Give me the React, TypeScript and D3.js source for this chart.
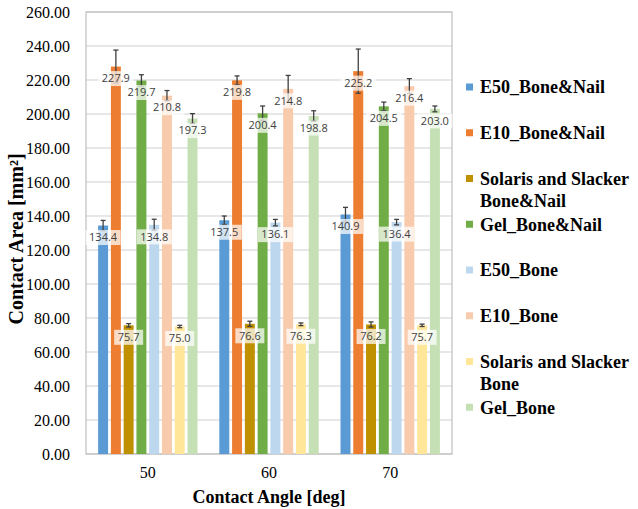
import React from "react";
import * as d3 from "d3";

const categories = ["50", "60", "70"];
const seriesNames = [
  "E50_Bone&Nail",
  "E10_Bone&Nail",
  "Solaris and Slacker Bone&Nail",
  "Gel_Bone&Nail",
  "E50_Bone",
  "E10_Bone",
  "Solaris and Slacker Bone",
  "Gel_Bone",
];
const legendLines = [
  ["E50_Bone&Nail"],
  ["E10_Bone&Nail"],
  ["Solaris and Slacker", "Bone&Nail"],
  ["Gel_Bone&Nail"],
  ["E50_Bone"],
  ["E10_Bone"],
  ["Solaris and Slacker", "Bone"],
  ["Gel_Bone"],
];
const colors = ["#5b9bd5", "#ed7d31", "#bf9000", "#70ad47", "#bdd7ee", "#f8cbad", "#ffe699", "#c5e0b4"];

// values per series, one per category (50, 60, 70)
const e50BoneNail = [134.4, 137.5, 140.9];
const e10BoneNail = [227.9, 219.8, 225.2];
const solarisBoneNail = [75.7, 76.6, 76.2];
const gelBoneNail = [219.7, 200.4, 204.5];
const e50Bone = [134.8, 136.1, 136.4];
const e10Bone = [210.8, 214.8, 216.4];
const solarisBone = [75.0, 76.3, 75.7];
const gelBone = [197.3, 198.8, 203.0];

// error (± standard deviation) per series
const e50BoneNailErr = [3.0, 2.5, 4.2];
const e10BoneNailErr = [9.7, 2.6, 13.0];
const solarisBoneNailErr = [1.0, 1.5, 1.5];
const gelBoneNailErr = [3.4, 4.3, 2.5];
const e50BoneErr = [3.3, 1.9, 1.6];
const e10BoneErr = [3.0, 7.9, 4.4];
const solarisBoneErr = [0.7, 0.8, 0.7];
const gelBoneErr = [2.9, 3.1, 1.7];

const yTicks = d3.range(0, 261, 20);

const seriesValues = [e50BoneNail, e10BoneNail, solarisBoneNail, gelBoneNail, e50Bone, e10Bone, solarisBone, gelBone];
const seriesErrors = [e50BoneNailErr, e10BoneNailErr, solarisBoneNailErr, gelBoneNailErr, e50BoneErr, e10BoneErr, solarisBoneErr, gelBoneErr];

const SERIF = "Liberation Serif, Times New Roman, Times, DejaVu Serif, serif";
const SANS = "Open Sans, Liberation Sans, sans-serif";

export default function App() {
  const W = 638, H = 509;
  const left = 86, right = 452, top = 12, bottom = 454;
  const x0 = d3.scaleBand<string>().domain(categories).range([left, right]).paddingInner(0.18).paddingOuter(0.1);
  const x1 = d3.scaleBand<number>().domain(d3.range(seriesNames.length)).range([0, x0.bandwidth()]).paddingInner(0.22).paddingOuter(0);
  const y = d3.scaleLinear().domain([0, 260]).range([bottom, top]);
  const serifStyle = { fontFamily: SERIF };
  const sansStyle = { fontFamily: SANS };

  const marks = [];
  seriesNames.forEach((s, si) => {
    categories.forEach((c, ci) => {
      marks.push({ si, ci, c, v: seriesValues[si][ci], e: seriesErrors[si][ci] });
    });
  });

  return (
    <svg width={W} height={H} style={{ position: "absolute", left: 0, top: 0, background: "#fff" }}>
      <rect x={0} y={0} width={W} height={H} fill="#fff" />
      {yTicks.map((t) => (
        <g key={t}>
          <line x1={left} x2={right} y1={y(t)} y2={y(t)} stroke="#d0d0d0" strokeWidth={1.2} />
          <text x={70} y={y(t)} dy="0.35em" textAnchor="end" style={serifStyle} fontSize={16} fill="#000">
            {d3.format(".2f")(t)}
          </text>
        </g>
      ))}
      <rect x={left} y={top} width={right - left} height={bottom - top} fill="none" stroke="#bfbfbf" strokeWidth={1.2} />
      {marks.map((m) => (
        <rect key={`b${m.si}-${m.ci}`} x={x0(m.c)! + x1(m.si)!} y={y(m.v)} width={x1.bandwidth()} height={y(0) - y(m.v)} fill={colors[m.si]} />
      ))}
      {marks.map((m) => {
        const cx = x0(m.c)! + x1(m.si)! + x1.bandwidth() / 2;
        return (
          <g key={`e${m.si}-${m.ci}`} stroke="#404040" strokeWidth={1.3}>
            <line x1={cx} x2={cx} y1={y(m.v + m.e)} y2={y(m.v - m.e)} />
            <line x1={cx - 2.5} x2={cx + 2.5} y1={y(m.v + m.e)} y2={y(m.v + m.e)} />
            <line x1={cx - 2.5} x2={cx + 2.5} y1={y(m.v - m.e)} y2={y(m.v - m.e)} />
          </g>
        );
      })}
      {marks.map((m) => {
        const cx = x0(m.c)! + x1(m.si)! + x1.bandwidth() / 2;
        const cy = y(m.v) + 12;
        const label = d3.format(".1f")(m.v);
        const w = label.length * 6 + 5;
        return (
          <g key={`l${m.si}-${m.ci}`}>
            <rect x={cx - w / 2} y={cy - 7.5} width={w} height={15} fill="#fff" fillOpacity={0.72} />
            <text x={cx} y={cy} dy="0.35em" textAnchor="middle" style={sansStyle} fontSize={11} fill="#404040">
              {label}
            </text>
          </g>
        );
      })}
      {categories.map((c) => (
        <text key={c} x={x0(c)! + x0.bandwidth() / 2} y={472} dy="0.35em" textAnchor="middle" style={serifStyle} fontSize={16} fill="#000">
          {c}
        </text>
      ))}
      <text x={(left + right) / 2} y={497} dy="0.35em" textAnchor="middle" style={serifStyle} fontSize={18} fontWeight="bold" fill="#000">
        Contact Angle [deg]
      </text>
      <text transform={`translate(16,239) rotate(-90)`} dy="0.35em" textAnchor="middle" style={serifStyle} fontSize={20} fontWeight="bold" fill="#000">
        Contact Area [mm²]
      </text>
      {legendLines.map((lines, i) => {
        const ly = 87 + i * 45.75;
        return (
          <g key={i}>
            <rect x={466} y={ly - 3.5} width={7} height={7} fill={colors[i]} />
            {lines.map((ln, j) => (
              <text key={j} x={480} y={ly + j * 22} dy="0.35em" style={serifStyle} fontSize={18} fontWeight="bold" fill="#000">
                {ln}
              </text>
            ))}
          </g>
        );
      })}
    </svg>
  );
}
